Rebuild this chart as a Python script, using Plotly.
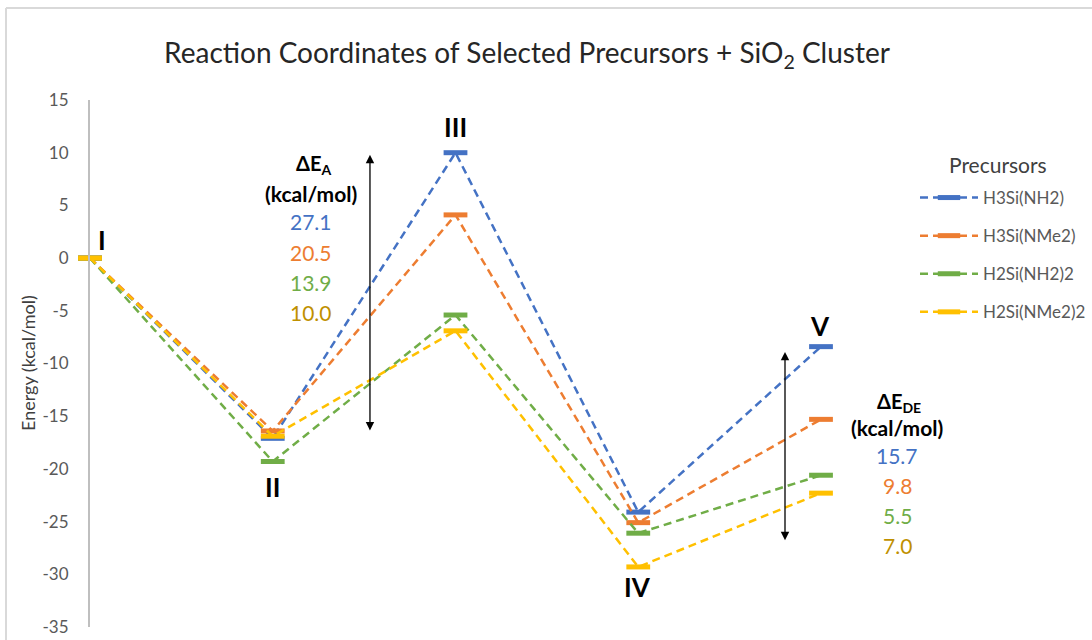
import plotly.graph_objects as go

# Reaction coordinate stages and relative energies (kcal/mol)
stages = ["I", "II", "III", "IV", "V"]
precursors = ["H3Si(NH2)", "H3Si(NMe2)", "H2Si(NH2)2", "H2Si(NMe2)2"]
e_h3si_nh2 = [0.0, -17.1, 10.0, -24.1, -8.4]
e_h3si_nme2 = [0.0, -16.4, 4.1, -25.1, -15.3]
e_h2si_nh2_2 = [0.0, -19.3, -5.4, -26.1, -20.6]
e_h2si_nme2_2 = [0.0, -16.9, -6.9, -29.3, -22.3]
y_ticks = [15, 10, 5, 0, -5, -10, -15, -20, -25, -30, -35]

series = [e_h3si_nh2, e_h3si_nme2, e_h2si_nh2_2, e_h2si_nme2_2]
line_colors = ["#4472C4", "#ED7D31", "#70AD47", "#FFC000"]
text_colors = ["#4472C4", "#ED7D31", "#70AD47", "#BF9000"]

FONT = "Lato, Carlito, 'Open Sans', sans-serif"

# plot-area edges in pixels (used for placing free text)
PL, PR, PT, PB = 90, 821, 100, 627


def px_x(px):
    return (px - PL) / (PR - PL)


def px_y(py):
    return 1 - (py - PT) / (PB - PT)


def label(px, py, text, size, color, **kw):
    return dict(x=px_x(px), y=px_y(py), xref="paper", yref="paper",
                xanchor="center", yanchor="middle", text=text,
                showarrow=False, font=dict(family=FONT, size=size, color=color),
                **kw)


fig = go.Figure()
xs = list(range(1, len(stages) + 1))
for name, vals, col in zip(precursors, series, line_colors):
    fig.add_trace(go.Scatter(
        x=xs, y=vals, name=name, legendgroup=name,
        mode="lines+markers",
        line=dict(color=col, width=2.5, dash="8px,5px"),
        marker=dict(symbol="line-ew", size=17, color=col,
                    line=dict(color=col, width=5)),
        cliponaxis=False,
    ))

ann = []

# stage labels
stage_pos = [(102, 240), (272, 487), (455, 127), (637, 587), (820, 326)]
for lab, (px, py) in zip(stages, stage_pos):
    ann.append(label(px, py, f"<b>{lab}</b>", 26, "#000000"))

# activation energies (III - II) and desorption energies (V - IV)
dEa = [s[2] - s[1] for s in series]
dEde = [s[4] - s[3] for s in series]


def energy_block(cx, y_head, y_unit, y_vals, title_html, values):
    ann.append(label(cx + 2, y_head, title_html, 20, "#000000"))
    ann.append(label(cx, y_unit, "<b>(kcal/mol)</b>", 21, "#000000"))
    for v, py, c in zip(values, y_vals, text_colors):
        ann.append(label(cx, py, f"{v:.1f}", 21, c))


energy_block(311, 165, 193, [222, 252, 282, 312], "<b>ΔE<sub>A</sub></b>", dEa)
energy_block(897, 402, 427, [455, 485, 515, 545], "<b>ΔE<sub>DE</sub></b>", dEde)

# y-axis title
ann.append(label(28, 363, "Energy (kcal/mol)", 18, "#404040", textangle=-90))

# legend heading
ann.append(label(998, 165, "Precursors", 21, "#404040"))

# double-headed arrows
for x_a, y_top, y_bot in [(2.532, 9.8, -16.5), (4.803, -8.9, -26.9)]:
    ann.append(dict(x=x_a, y=y_top, ax=x_a, ay=y_bot, xref="x", yref="y",
                    axref="x", ayref="y", text="", showarrow=True,
                    arrowhead=2, arrowside="end+start", arrowsize=1.3,
                    arrowwidth=1.3, arrowcolor="#000000", standoff=0,
                    startstandoff=0))

# chart-area border (left and top edges)
shapes = [
    dict(type="line", xref="paper", yref="paper", x0=px_x(6), x1=px_x(1100),
         y0=px_y(8), y1=px_y(8), line=dict(color="#D9D9D9", width=2)),
    dict(type="line", xref="paper", yref="paper", x0=px_x(6), x1=px_x(6),
         y0=px_y(8), y1=px_y(650), line=dict(color="#D9D9D9", width=2)),
]

fig.update_layout(
    width=1092, height=640,
    margin=dict(l=PL, r=1092 - PR, t=PT, b=640 - PB, autoexpand=False),
    paper_bgcolor="white", plot_bgcolor="white",
    font=dict(family=FONT, color="#595959"),
    title=dict(text="Reaction Coordinates of Selected Precursors + SiO<sub>2</sub> Cluster",
               x=527 / 1092, xref="container", xanchor="center",
               y=1 - 53 / 640, yref="container", yanchor="middle",
               font=dict(family=FONT, size=28, color="#262626")),
    xaxis=dict(range=[1, 5], showgrid=False, zeroline=False, showline=False,
               showticklabels=False, ticks=""),
    yaxis=dict(range=[-35, 15], tickvals=y_ticks,
               ticktext=[str(v) for v in y_ticks], showgrid=False,
               zeroline=False, showline=True, linecolor="#BFBFBF",
               linewidth=2, ticks="", ticklabelstandoff=16,
               tickfont=dict(family=FONT, size=17, color="#595959")),
    legend=dict(x=px_x(915), y=px_y(180), xanchor="left", yanchor="top",
                xref="paper", yref="paper", itemwidth=58,
                tracegroupgap=13,
                font=dict(family=FONT, size=17, color="#595959"),
                bgcolor="rgba(0,0,0,0)"),
    annotations=ann,
    shapes=shapes,
)

fig.write_html("out.html")
